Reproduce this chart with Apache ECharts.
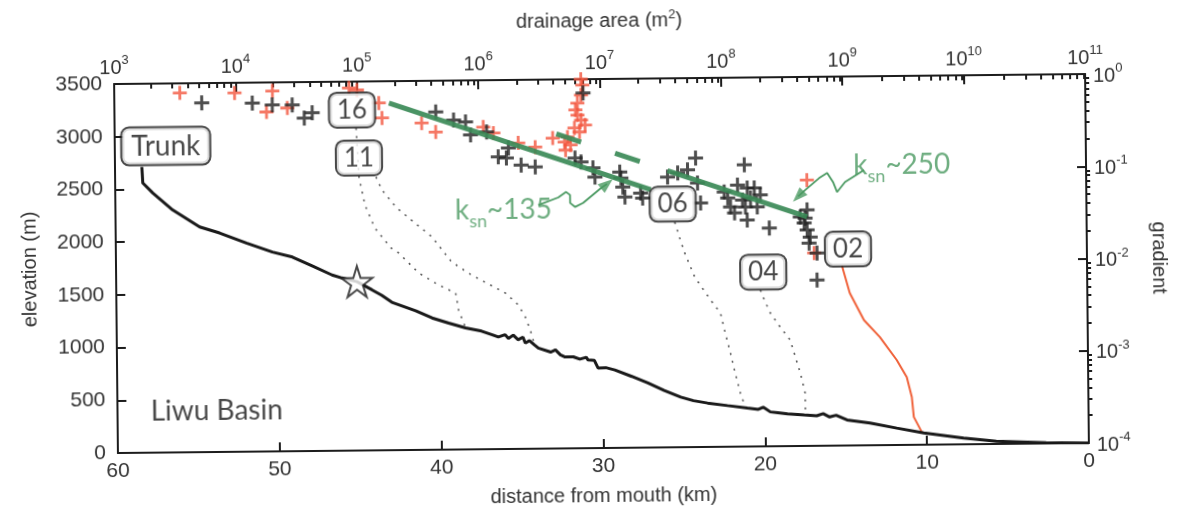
<!DOCTYPE html>
<html>
<head>
<meta charset="utf-8">
<script src="https://cdn.jsdelivr.net/npm/echarts@6/dist/echarts.min.js"></script>
<style>
  html, body { margin: 0; padding: 0; background: #fff; overflow: hidden; }
  #chart { width: 1177px; height: 514px; transform: rotate(-0.59deg); transform-origin: 604px 263px; }
</style>
</head>
<body>
<div id="chart"></div>
<script>
// Liwu Basin: long profiles (distance from mouth vs elevation, bottom/left axes)
// and slope–area data (drainage area vs channel gradient, top/right log axes).

// ---- long profiles: [distance from mouth (km), elevation (m)] ----
const trunkProfile = [
  [58.34, 2710], [58.29, 2558], [57.68, 2463], [56.46, 2300], [54.81, 2136],
  [53.58, 2077], [51.93, 1979], [50.33, 1891], [49.10, 1842], [47.88, 1756],
  [46.65, 1667], [46.04, 1638], [45.12, 1602], [44.20, 1523], [43.60, 1470],
  [42.98, 1403], [41.51, 1320], [40.50, 1250], [39.48, 1200], [38.44, 1152],
  [37.46, 1121], [36.80, 1085], [36.42, 1063], [36.00, 1085], [35.80, 1048],
  [35.50, 1080], [35.20, 1035], [34.90, 1060], [34.76, 1003], [34.50, 1025],
  [34.20, 985], [33.96, 955], [33.20, 915], [32.90, 935], [32.60, 888],
  [32.31, 867], [31.80, 868], [31.40, 845], [31.00, 862], [30.89, 836],
  [30.50, 832], [30.28, 759], [29.80, 762], [29.24, 739], [28.20, 676],
  [27.21, 612], [26.20, 540], [25.19, 476], [24.40, 440], [23.53, 416],
  [22.30, 390], [21.08, 365], [20.40, 352], [20.10, 372], [19.66, 326],
  [19.20, 318], [18.60, 305], [17.57, 293], [16.80, 285], [16.40, 305],
  [16.00, 272], [15.60, 288], [14.93, 242], [13.51, 211], [11.86, 160],
  [10.19, 111], [7.74, 60], [5.72, 27], [2.64, 6], [0, 0]
];
const tribProfile16 = [
  [45.08, 3059], [44.93, 2594], [44.58, 2328], [43.98, 2109], [43.00, 1918],
  [42.52, 1869], [41.30, 1678], [40.07, 1562], [39.03, 1484], [38.86, 1323],
  [38.44, 1152]
];
const tribProfile11 = [
  [43.88, 2593], [43.52, 2469], [42.67, 2306], [41.58, 2162], [40.47, 2021],
  [39.26, 1779], [38.04, 1654], [37.00, 1567], [35.96, 1480], [35.16, 1365],
  [34.74, 1250], [34.44, 1126], [34.20, 990]
];
const tribProfile06 = [
  [25.45, 2136], [25.15, 1984], [24.85, 1841], [24.25, 1613], [23.28, 1393],
  [22.68, 1269], [22.44, 1107], [22.09, 888], [21.85, 727], [21.50, 508],
  [21.20, 372]
];
const tribProfile04 = [
  [20.20, 1483], [19.96, 1388], [19.60, 1264], [19.00, 1130], [18.39, 1006],
  [17.97, 787], [17.78, 692], [17.50, 502], [17.50, 300]
];
const tribProfile02 = [
  [15.14, 1703], [14.68, 1446], [13.82, 1188], [12.85, 1026], [11.82, 806],
  [11.21, 643], [10.91, 453], [10.80, 264], [10.30, 115]
];
const starPoint = [45.12, 1602];

// ---- slope–area data: [drainage area (m^2), gradient] ----
const slopeAreaTrunk = [
  [5.25e3, 0.609], [1.37e4, 0.601], [2.0e4, 0.569], [2.92e4, 0.566], [3.66e4, 0.407],
  [4.26e4, 0.463], [4.44e5, 0.458], [6.22e5, 0.373], [7.8e5, 0.354], [8.55e5, 0.256],
  [1.16e6, 0.274], [1.44e6, 0.147], [1.68e6, 0.143], [1.75e6, 0.183], [2.22e6, 0.119],
  [2.9e6, 0.113], [6.18e6, 0.140], [6.92e6, 0.127], [8.67e6, 0.109], [8.98e6, 0.0869],
  [7.28e6, 0.708], [1.44e7, 0.0977], [1.47e7, 0.0841], [1.52e7, 0.0672], [1.58e7, 0.0523],
  [2.13e7, 0.0575], [2.21e7, 0.0508], [3.56e7, 0.0851], [4.32e7, 0.0938], [5.21e7, 0.101],
  [6.08e7, 0.136], [6.28e7, 0.0728], [6.63e7, 0.0442], [1.04e8, 0.0577], [1.11e8, 0.0497],
  [1.17e8, 0.0396], [1.26e8, 0.0341], [1.34e8, 0.0685], [1.47e8, 0.047], [1.53e8, 0.113],
  [1.61e8, 0.0634], [1.71e8, 0.0494], [1.55e8, 0.0395], [1.60e8, 0.0285], [1.84e8, 0.0633],
  [1.94e8, 0.0394], [2.06e8, 0.0531], [2.43e8, 0.0232], [4.38e8, 0.0303], [4.99e8, 0.0361],
  [4.8e8, 0.0295], [4.71e8, 0.0261], [4.98e8, 0.0219], [5.27e8, 0.0183], [5.15e8, 0.0158],
  [5.98e8, 0.0123], [5.95e8, 0.00627]
];
const slopeAreaTrib02 = [
  [3.47e3, 0.787], [9.8e3, 0.775], [2.01e4, 0.807], [1.79e4, 0.479], [2.66e4, 0.526],
  [8.6e4, 0.853], [1.0e5, 0.809], [1.51e5, 0.582], [1.6e5, 0.40], [3.39e5, 0.349],
  [4.42e5, 0.278], [1.09e6, 0.311], [1.32e6, 0.267], [2.11e6, 0.207], [2.91e6, 0.186],
  [7.0e6, 1.0], [7.2e6, 0.865], [7.0e6, 0.674], [6.53e6, 0.552], [6.28e6, 0.465],
  [6.53e6, 0.409], [6.98e6, 0.361], [7.52e6, 0.319], [6.15e6, 0.297], [6.76e6, 0.268],
  [5.38e6, 0.237], [4.06e6, 0.232], [5.08e6, 0.209], [5.69e6, 0.194], [5.17e6, 0.171],
  [5.0e8, 0.0762], [5.66e8, 0.0123]
];

// ---- steepness fits: S = ksn * A^-theta ----
const ksnValues = [135, 250];
const concavity = 0.45;
const fit135Range = [1.83e5, 2.58e7];
const fit250Ranges = [[4.35e6, 6.95e6], [1.32e7, 2.11e7], [3.56e7, 4.99e8]];

// annotation pointers, in [distance, elevation]
const pointer135 = [
  [33.87, 2311], [32.63, 2381], [32.14, 2432], [31.90, 2403], [31.90, 2327],
  [31.59, 2289], [31.10, 2326], [29.98, 2466], [29.61, 2505]
];
const pointer250 = [
  [13.72, 2611], [14.90, 2499], [15.40, 2405], [15.64, 2500], [16.00, 2587],
  [16.50, 2539], [17.37, 2427], [17.80, 2368]
];

// ---- text ----
const profileNames = ['Trunk', '16', '11', '06', '04', '02'];
const profileLabelAnchors = [
  [56.85, 2907], [45.32, 3230], [44.92, 2775], [25.56, 2307], [20.01, 1653], [14.76, 1863]
];
const basinName = 'Liwu Basin';
const basinNameAnchor = [57.95, 386];
const ksnLabelAnchors = [[36.03, 2238], [11.38, 2626]];
const areaExponents = [3, 4, 5, 6, 7, 8, 9, 10, 11];
const gradientExponents = [-4, -3, -2, -1, 0];
const minorMultipliers = [2, 3, 4, 5, 6, 7, 8, 9];

// ---- build ----
const AXIS_COLOR = '#1c1c1c';
const TEXT_COLOR = '#333';
const GREEN = '#3b8a57';
const POINTER_GREEN = '#4b9a62';
const PLUS = 'path://M4,0H6V4H10V6H6V10H4V6H0V4H4Z';
const STAR = 'path://M50,0L61.2,34.5L97.6,34.5L68.2,55.9L79.4,90.5L50,69.1L20.6,90.5L31.8,55.9L2.4,34.5L38.8,34.5Z';

const pow10 = e => Math.pow(10, e);
const majorArea = areaExponents.map(pow10);
const majorGradient = gradientExponents.map(pow10);
const minorOf = exps => exps.slice(0, -1).flatMap(e => minorMultipliers.map(m => m * pow10(e)));
const minorArea = minorOf(areaExponents);
const minorGradient = minorOf(gradientExponents);

const fitLine = (ksn, a0, a1) => [[a0, ksn * Math.pow(a0, -concavity)], [a1, ksn * Math.pow(a1, -concavity)]];

const powerLabel = v => '{b|10}{s|' + Math.round(Math.log10(v)) + '}';
const supStyle = { fontFamily: 'Liberation Sans', fontSize: 13, color: TEXT_COLOR, verticalAlign: 'bottom', padding: [0, 0, 11, 0] };
const powerRich = {
  b: { fontFamily: 'Liberation Sans', fontSize: 20, color: TEXT_COLOR, verticalAlign: 'bottom' },
  s: supStyle
};
const frameLine = () => ({ show: true, onZero: false, lineStyle: { color: AXIS_COLOR, width: 2 } });
const majorTick = extra => Object.assign({ inside: true, length: 9, lineStyle: { color: AXIS_COLOR, width: 2 } }, extra || {});
const nameStyle = { fontFamily: 'Liberation Sans', fontSize: 20, color: TEXT_COLOR };
const numberLabel = { fontFamily: 'Liberation Sans', fontSize: 21, color: TEXT_COLOR, formatter: v => String(v) };
const plotBox = { left: 116, top: 79, right: 86, bottom: 66 };

const option = {
  animation: false,
  backgroundColor: '#fff',
  // grid 0 holds all marks; grid 1 (same box) only carries the minor log ticks
  grid: [Object.assign({}, plotBox), Object.assign({}, plotBox)],
  xAxis: [
    {
      gridIndex: 0, type: 'value', position: 'bottom', min: 0, max: 60, interval: 10, inverse: true,
      axisLine: frameLine(), splitLine: { show: false }, axisTick: majorTick(),
      axisLabel: Object.assign({ margin: 8 }, numberLabel),
      name: 'distance from mouth (km)', nameLocation: 'middle', nameGap: 38, nameTextStyle: nameStyle
    },
    {
      gridIndex: 0, type: 'log', logBase: 10, position: 'top', min: 1e3, max: 1e11,
      axisLine: frameLine(), splitLine: { show: false },
      axisTick: majorTick({ customValues: majorArea }),
      axisLabel: { customValues: majorArea, formatter: powerLabel, rich: powerRich, margin: 6 },
      name: 'drainage area (m{s|2})', nameLocation: 'middle', nameGap: 46,
      nameTextStyle: Object.assign({}, nameStyle, { rich: { s: supStyle } })
    },
    {
      gridIndex: 1, type: 'log', logBase: 10, position: 'top', min: 1e3, max: 1e11,
      axisLine: { show: false, onZero: false }, splitLine: { show: false }, axisLabel: { show: false },
      axisTick: majorTick({ length: 5, customValues: minorArea })
    }
  ],
  yAxis: [
    {
      gridIndex: 0, type: 'value', position: 'left', min: 0, max: 3500, interval: 500,
      axisLine: frameLine(), splitLine: { show: false }, axisTick: majorTick(),
      axisLabel: Object.assign({ margin: 12 }, numberLabel),
      name: 'elevation (m)', nameLocation: 'middle', nameGap: 76, nameRotate: 90, nameTextStyle: nameStyle
    },
    {
      gridIndex: 0, type: 'log', logBase: 10, position: 'right', min: 1e-4, max: 1,
      axisLine: frameLine(), splitLine: { show: false },
      axisTick: majorTick({ customValues: majorGradient }),
      axisLabel: { customValues: majorGradient, formatter: powerLabel, rich: powerRich, margin: 8 },
      name: 'gradient', nameLocation: 'middle', nameGap: 62, nameRotate: -90, nameTextStyle: nameStyle
    },
    {
      gridIndex: 1, type: 'log', logBase: 10, position: 'right', min: 1e-4, max: 1,
      axisLine: { show: false, onZero: false }, splitLine: { show: false }, axisLabel: { show: false },
      axisTick: majorTick({ length: 5, customValues: minorGradient })
    }
  ],
  series: []
};

const S = option.series;
const profileLine = (data, style, z) => ({
  type: 'line', xAxisIndex: 0, yAxisIndex: 0, data, showSymbol: false, symbol: 'none',
  lineStyle: style, z: z || 3, silent: true
});

// tributary profiles
[tribProfile16, tribProfile11, tribProfile06, tribProfile04].forEach(p =>
  S.push(profileLine(p, { color: '#5a5a5a', width: 1.6, type: [2, 6] }, 2)));
S.push(profileLine(tribProfile02, { color: '#f0623a', width: 2 }, 2));
// trunk
S.push(profileLine(trunkProfile, { color: '#1a1a1a', width: 3 }, 3));

// slope–area scatter
S.push({
  type: 'scatter', xAxisIndex: 1, yAxisIndex: 1, data: slopeAreaTrib02, clip: false,
  symbol: PLUS, symbolSize: 14, itemStyle: { color: '#f2553d' }, z: 4, silent: true
});
S.push({
  type: 'scatter', xAxisIndex: 1, yAxisIndex: 1, data: slopeAreaTrunk, clip: false,
  symbol: PLUS, symbolSize: 15, itemStyle: { color: '#222' }, z: 5, silent: true
});

// ksn fits
S.push({
  type: 'line', xAxisIndex: 1, yAxisIndex: 1, symbol: 'none', silent: true, z: 6,
  data: fitLine(ksnValues[0], fit135Range[0], fit135Range[1]),
  lineStyle: { color: GREEN, width: 5, opacity: 0.92 }
});
fit250Ranges.forEach(r => S.push({
  type: 'line', xAxisIndex: 1, yAxisIndex: 1, symbol: 'none', silent: true, z: 6,
  data: fitLine(ksnValues[1], r[0], r[1]),
  lineStyle: { color: GREEN, width: 5, opacity: 0.92 }
}));

// pointers to the fits
[[pointer135, -51], [pointer250, 135]].forEach(([path, rot]) => {
  S.push(profileLine(path, { color: POINTER_GREEN, width: 1.8 }, 7));
  S.push({
    type: 'scatter', xAxisIndex: 0, yAxisIndex: 0, data: [path[path.length - 1]], silent: true, z: 7,
    symbol: 'triangle', symbolSize: [11, 15], symbolRotate: rot, itemStyle: { color: POINTER_GREEN }
  });
});

// ksn labels
ksnValues.forEach((k, i) => S.push({
  type: 'scatter', xAxisIndex: 0, yAxisIndex: 0, symbolSize: 0, silent: true, z: 8,
  data: [{ value: ksnLabelAnchors[i], name: String(k) }],
  label: {
    show: true, position: 'inside',
    formatter: p => '{k|k}{s|sn}{t|~' + p.name + '}',
    rich: {
      k: { fontFamily: 'Lato', fontSize: 28, color: POINTER_GREEN, verticalAlign: 'bottom', padding: [0, 0, 6, 0] },
      s: { fontFamily: 'Lato', fontSize: 18, color: POINTER_GREEN, verticalAlign: 'bottom' },
      t: { fontFamily: 'Lato', fontSize: 28, color: POINTER_GREEN, verticalAlign: 'bottom', padding: [0, 0, 6, 0] }
    }
  }
}));

// knickpoint star
S.push({
  type: 'scatter', xAxisIndex: 0, yAxisIndex: 0, data: [starPoint], silent: true, z: 9,
  symbol: STAR, symbolSize: 31,
  itemStyle: { color: '#fff', borderColor: '#1a1a1a', borderWidth: 2 }
});

// boxed profile names
const boxLabel = (size, pad) => ({
  show: true, position: 'inside', formatter: '{b}',
  fontFamily: 'Lato', fontSize: size, color: '#1a1a1a', lineHeight: size + 1,
  backgroundColor: '#fff', borderColor: '#1a1a1a', borderWidth: 2, borderRadius: 7, padding: pad
});
S.push({
  type: 'scatter', xAxisIndex: 0, yAxisIndex: 0, symbolSize: 0, silent: true, z: 10,
  data: [{ value: profileLabelAnchors[0], name: profileNames[0] }],
  label: boxLabel(28, [4, 9, 3, 9])
});
S.push({
  type: 'scatter', xAxisIndex: 0, yAxisIndex: 0, symbolSize: 0, silent: true, z: 10,
  data: profileNames.slice(1).map((n, i) => ({ value: profileLabelAnchors[i + 1], name: n })),
  label: boxLabel(26, [3, 7, 3, 7])
});

// basin name
S.push({
  type: 'scatter', xAxisIndex: 0, yAxisIndex: 0, symbolSize: 0, silent: true, z: 10,
  data: [{ value: basinNameAnchor, name: basinName }],
  label: {
    show: true, position: 'right', distance: 0, formatter: '{b}',
    fontFamily: 'Lato', fontSize: 28, color: '#1a1a1a'
  }
});

const chart = echarts.init(document.getElementById('chart'), null, { renderer: 'canvas' });
chart.setOption(option);
</script>
</body>
</html>
